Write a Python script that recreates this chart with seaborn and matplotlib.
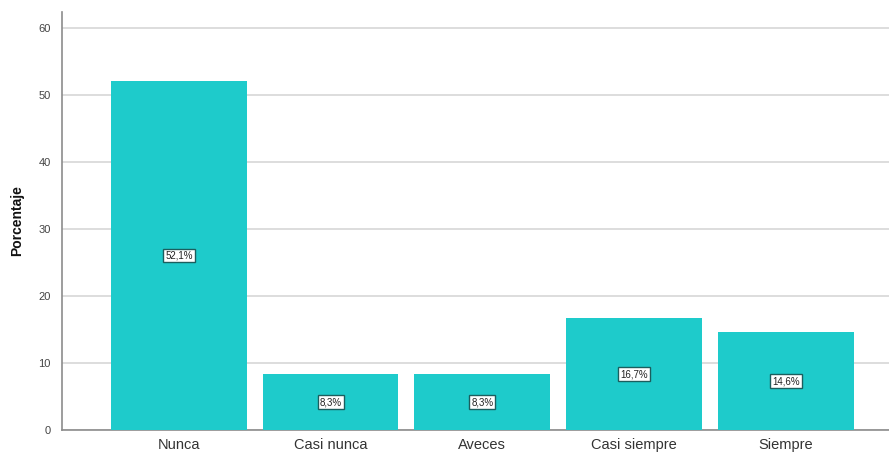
import matplotlib
matplotlib.use("Agg")
import matplotlib.pyplot as plt
import seaborn as sns
import pandas as pd

# ===== Data =====
categorias = ["Nunca", "Casi nunca", "Aveces", "Casi siempre", "Siempre"]
porcentajes = [52.1, 8.3, 8.3, 16.7, 14.6]
etiquetas = ["52,1%", "8,3%", "8,3%", "16,7%", "14,6%"]

df = pd.DataFrame({"Categoria": categorias, "Porcentaje": porcentajes})

sns.set_theme(style="white")
plt.rcParams["font.family"] = ["Arial", "Liberation Sans", "DejaVu Sans"]

fig = plt.figure(figsize=(8.89, 4.55), dpi=100)
ax = fig.add_axes([0.0697, 0.055, 0.9303, 0.9186])

sns.barplot(data=df, x="Categoria", y="Porcentaje", color="#1ECBCB",
            saturation=1, width=0.895, linewidth=0, ax=ax, zorder=3)

# value labels in the middle of each bar
for i, (v, t) in enumerate(zip(porcentajes, etiquetas)):
    ax.text(i, v / 2, t, ha="center", va="center", fontsize=7, color="#222222",
            bbox=dict(boxstyle="square,pad=0.2", fc="white", ec="#1B5E5E", lw=1.0),
            zorder=5)

ax.set_xlim(-0.77, 4.68)
ax.set_ylim(0, 62.4)
ax.set_yticks([0, 10, 20, 30, 40, 50, 60])
ax.yaxis.grid(True, color="#DADADA", lw=1.3, zorder=0)
ax.set_axisbelow(True)

for s in ["top", "right"]:
    ax.spines[s].set_visible(False)
for s in ["left", "bottom"]:
    ax.spines[s].set_color("#8C8C8C")
    ax.spines[s].set_linewidth(1.2)

ax.tick_params(axis="y", labelsize=8, colors="#444444", length=0, pad=8)
ax.tick_params(axis="x", labelsize=10.5, colors="#333333", length=0, pad=6)

ax.set_xlabel("")
ax.set_ylabel("Porcentaje", fontsize=10, fontweight="bold", color="#111111", labelpad=10)

fig.savefig("out.png", dpi=100)
